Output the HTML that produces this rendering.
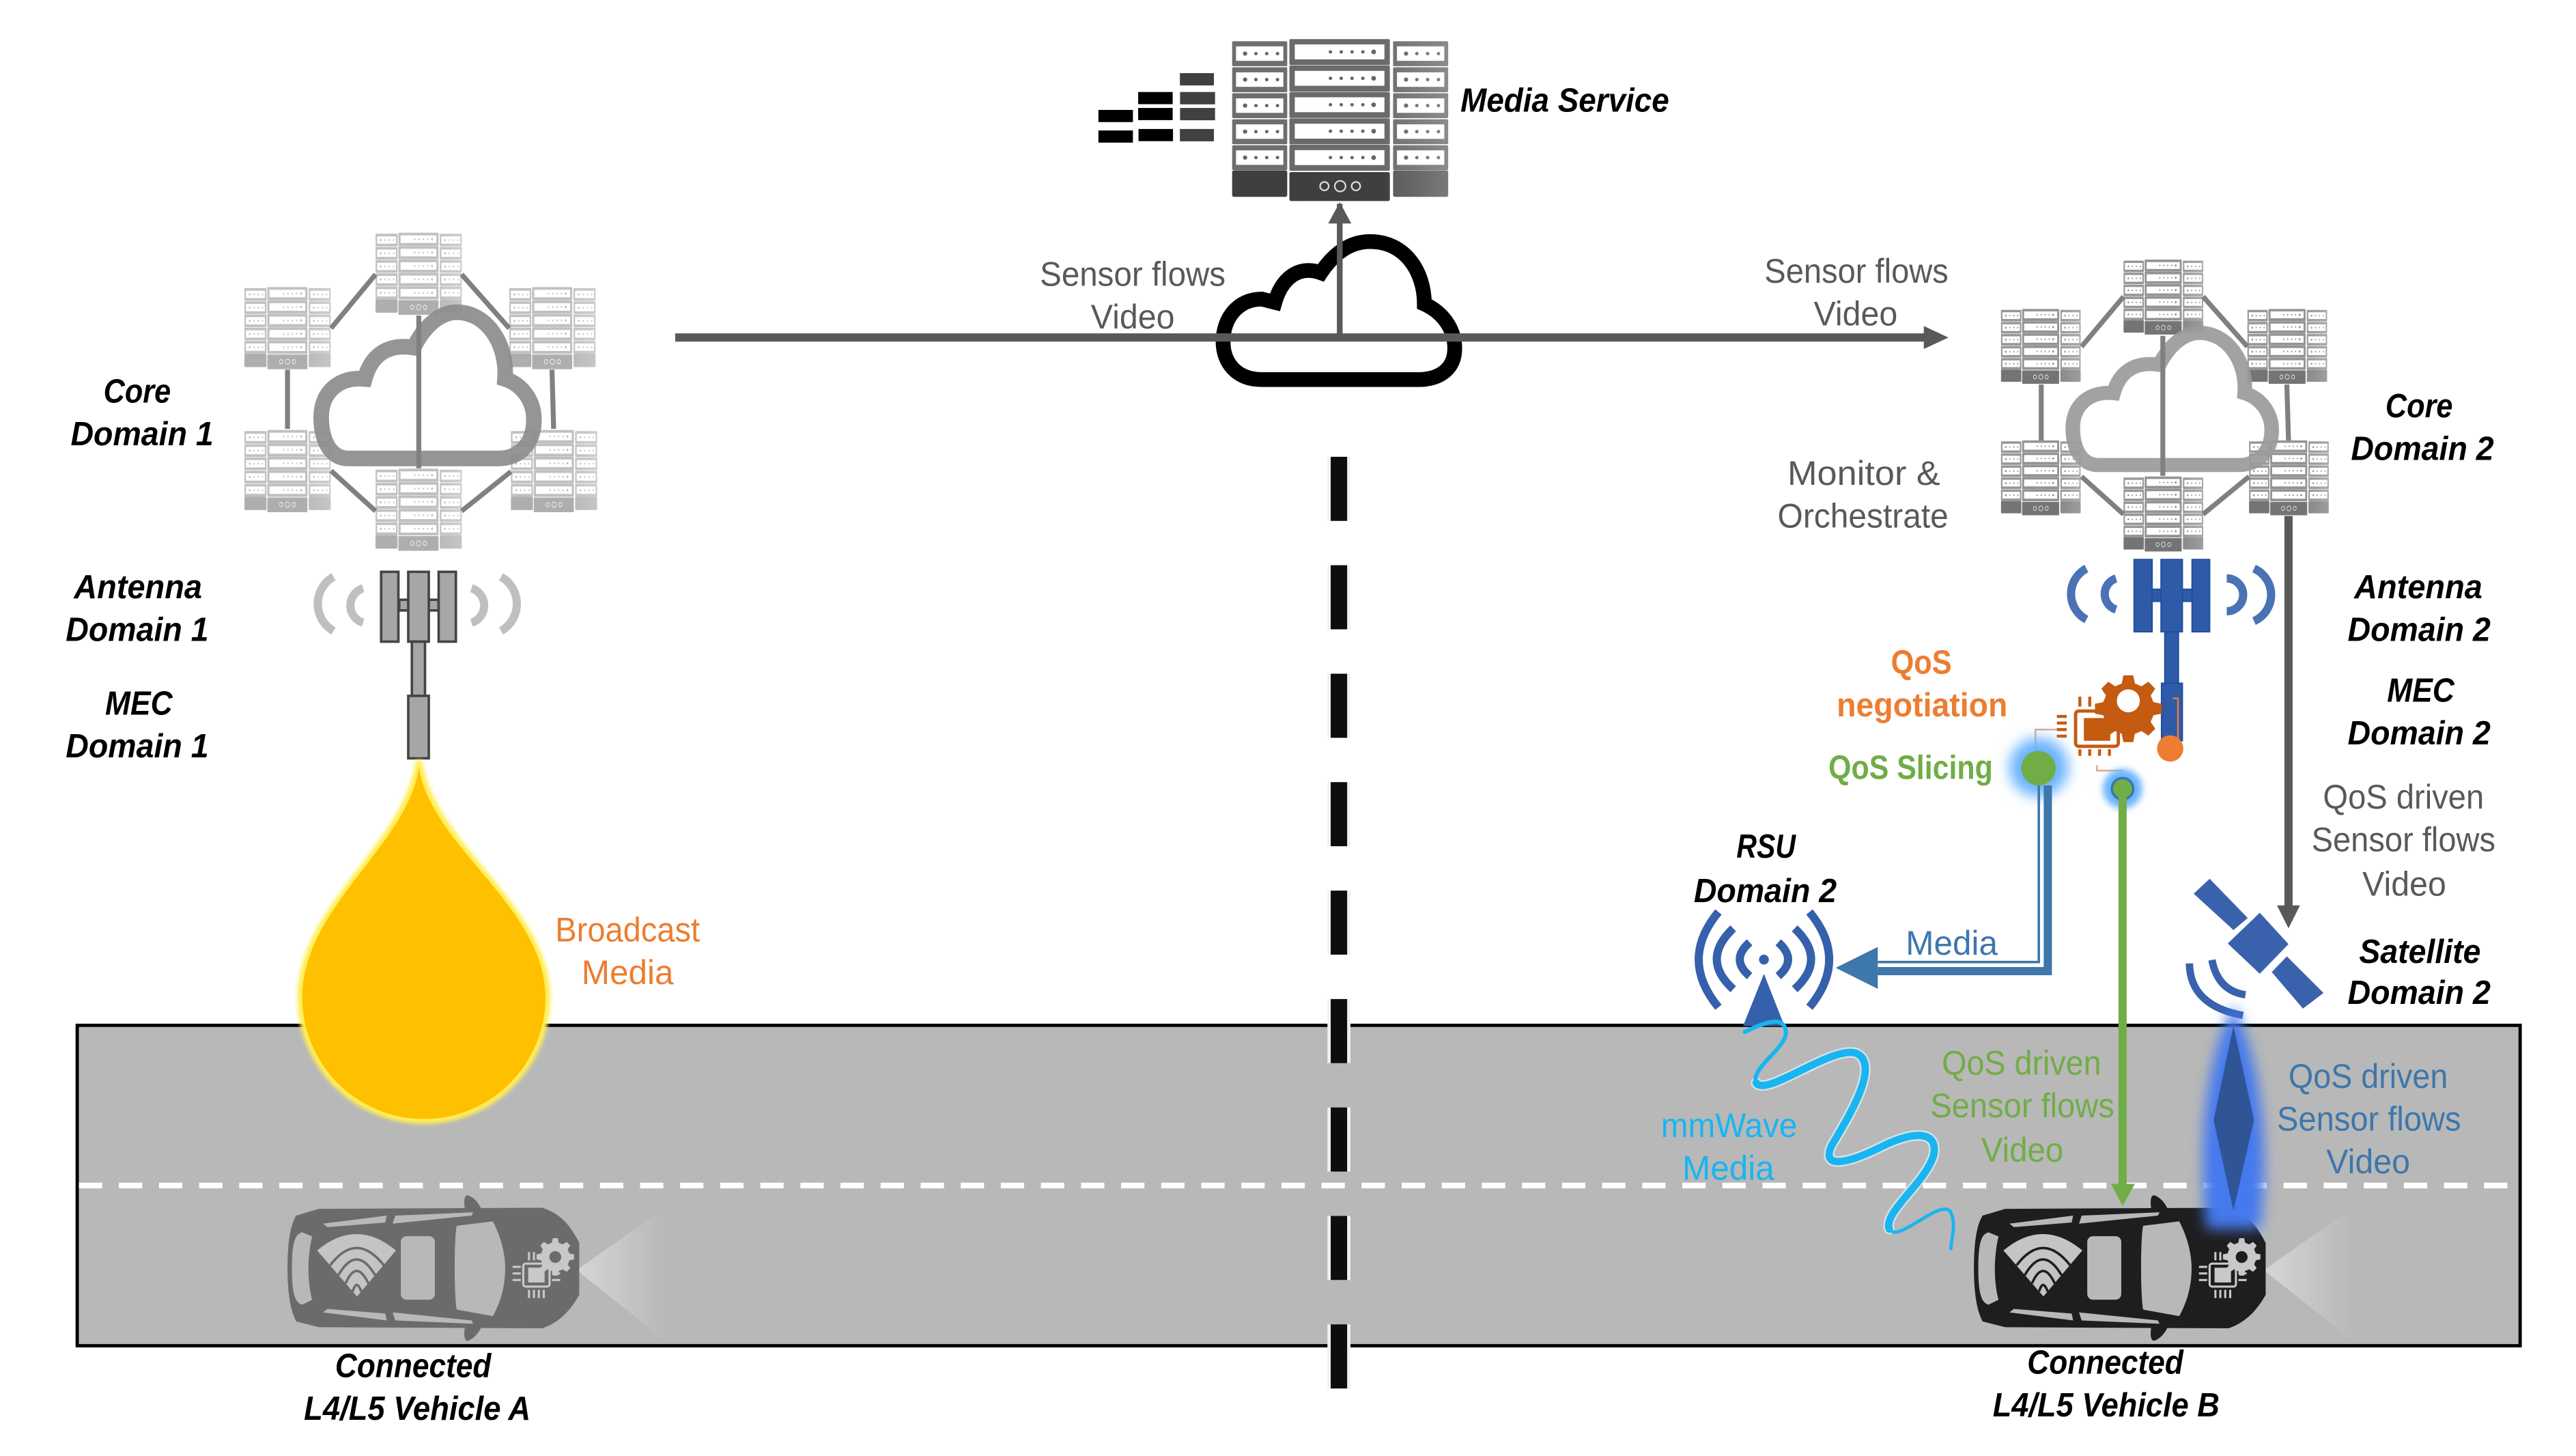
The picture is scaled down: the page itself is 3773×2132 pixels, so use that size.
<!DOCTYPE html>
<html><head><meta charset="utf-8"><title>Connected vehicle media diagram</title>
<style>
html,body{margin:0;padding:0;background:#fff}
svg{display:block}
text{font-family:"Liberation Sans",sans-serif;text-anchor:start}
.r{font-size:21px}
.b{font-size:20.5px;font-weight:bold;font-style:italic;fill:#000}
.g{fill:#595959}
.o{fill:#ed7d31}
.gr{fill:#70ad47}
.bl{fill:#3d77ab}
.cy{fill:#19b5f1}
.bo{font-weight:bold;font-size:20.5px}
</style></head><body>
<svg xmlns="http://www.w3.org/2000/svg" width="3773" height="2132" viewBox="0 0 1568 886.1" preserveAspectRatio="none">
<defs>
<linearGradient id="rg" x1="0" y1="0" x2="0" y2="1"><stop offset="0" stop-color="#8f8f8f"/><stop offset=".75" stop-color="#5c5c5c"/><stop offset="1" stop-color="#3c3c3c"/></linearGradient>
<linearGradient id="fade" x1="0" y1="0" x2="1" y2="0"><stop offset="0" stop-color="#fff" stop-opacity="0"/><stop offset=".7" stop-color="#fff" stop-opacity="0"/><stop offset="1" stop-color="#fff" stop-opacity=".2"/></linearGradient>
<linearGradient id="cone" x1="0" y1="0" x2="1" y2="0"><stop offset="0" stop-color="#d6d6d6"/><stop offset="1" stop-color="#b8b8b8"/></linearGradient>
<filter id="blur2" x="-100%" y="-100%" width="300%" height="300%"><feGaussianBlur stdDeviation="2"/></filter>
<filter id="blur1" x="-100%" y="-100%" width="300%" height="300%"><feGaussianBlur stdDeviation="1.2"/></filter>
<filter id="blur4" x="-100%" y="-100%" width="300%" height="300%"><feGaussianBlur stdDeviation="4"/></filter>
<g id="rowS"><rect width="25.5" height="11.7" rx=".6" fill="#6e6e6e"/><rect x="1.8" y="2.4" width="21.9" height="6.8" fill="#fff"/><g fill="#666"><circle cx="6" cy="5.8" r="1"/><circle cx="11" cy="5.8" r=".8"/><circle cx="16" cy="5.8" r=".8"/><circle cx="21" cy="5.8" r=".8"/></g></g>
<g id="rowM"><rect width="46.5" height="12.2" rx=".6" fill="#6a6a6a"/><rect x="2.5" y="2.5" width="41.5" height="7" fill="#fff"/><g fill="#666"><circle cx="19" cy="6" r=".8"/><circle cx="24" cy="6" r=".8"/><circle cx="29" cy="6" r=".8"/><circle cx="34" cy="6" r=".8"/><circle cx="39" cy="6" r="1.1"/></g></g>
<g id="rack">
<use href="#rowS" y="1"/><use href="#rowS" y="13.2"/><use href="#rowS" y="25.4"/><use href="#rowS" y="37.6"/><use href="#rowS" y="49.8"/>
<use href="#rowM" x="26.5"/><use href="#rowM" x="26.5" y="12.4"/><use href="#rowM" x="26.5" y="24.8"/><use href="#rowM" x="26.5" y="37.2"/><use href="#rowM" x="26.5" y="49.6"/>
<use href="#rowS" x="74.5" y="1"/><use href="#rowS" x="74.5" y="13.2"/><use href="#rowS" x="74.5" y="25.4"/><use href="#rowS" x="74.5" y="37.6"/><use href="#rowS" x="74.5" y="49.8"/>
<rect y="61.6" width="25.5" height="12.4" rx=".8" fill="#3f3f3f"/><rect x="26.5" y="62.4" width="46.5" height="13.6" rx=".8" fill="#3f3f3f"/><rect x="74.5" y="61.6" width="25.5" height="12.4" rx=".8" fill="#585858"/>
<g fill="none" stroke="#ddd" stroke-width=".7"><circle cx="42.7" cy="69" r="2"/><circle cx="50" cy="69" r="2.5"/><circle cx="57.3" cy="69" r="2"/></g>
<rect width="100" height="76" fill="url(#fade)"/>
</g>
<path id="cloud" d="M212 279 C200 279 195.5 266 195.5 254 C195.5 239 206 229 222 230.6 C226 216 236 209 251.8 211.5 C259 197 269 190 278 190 C296 190 309 209 307.4 230.6 C318 234 325 244 325 255.4 C325 270 316 279 303.7 279 Z" fill="none"/>
<g id="car">
<path fill="currentColor" d="M175 771.7 C175 755 177 745 180.3 739.8 L194 735.7 L330 735 C340 738 347 745 352.6 756.5 L352.6 788 C347 798 340 805 330 808.4 L194 807.7 L180.3 804.2 C177 798 175 788 175 771.7Z"/>
<path fill="currentColor" d="M283 736 C282 730 283 727 285 727.5 C289 729 292 733 293.5 737Z M283 807.4 C282 813.4 283 816.4 285 815.9 C289 814.4 292 810.4 293.5 806.4Z"/>
<g fill="#b8b8b8">
<path d="M278 746 L300 743.3 C306 755 307.5 765 307.5 772 C307.5 780 306 790 300 801 L278 797 C276.5 790 276.2 755 278 746Z"/>
<rect x="244" y="752.3" width="20.7" height="38.7" rx="3.5"/>
<path d="M184 750 L190 752.5 C187 765 187 780 190 791 L184 794 C179 793 177.7 785 177.7 772 C177.7 758 179 751 184 750Z"/>
<path d="M196.7 744.7 L235.4 739.8 L234.5 744 L199.3 746.8Z M240.6 739.8 L288 737.8 L287 739.8 L239 744.7Z M196.7 798.7 L235.4 803.6 L234.5 799.4 L199.3 796.6Z M240.6 803.6 L288 805.6 L287 803.6 L239 798.7Z"/>
</g>
<path fill="#c4c4c4" d="M217.3 789 L193 761 Q217 741 241 761Z"/>
<g fill="none" stroke="currentColor" stroke-width="1.5"><path d="M201 770 Q217 749 233.600 770"/><path d="M206 776 Q217 757 228.300 776"/><path d="M210.400 781 Q217 766 224.200 781"/><path d="M214.700 786 Q217 778 219.900 786"/></g>
<g fill="#c8c8c8">
<path d="M336.500 753.500h3l.6 2.800 2.500 1 2.300-1.500 2.200 2.200-1.500 2.300 1 2.500 2.800.6v3l-2.800.6-1 2.500 1.500 2.300-2.200 2.200-2.300-1.500-2.500 1-.6 2.800h-3l-.6-2.800-2.500-1-2.300 1.500-2.200-2.200 1.500-2.300-1-2.500-2.800-.6v-3l2.800-.6 1-2.500-1.500-2.300 2.200-2.200 2.300 1.500 2.500-1z"/>
</g>
<circle cx="338" cy="765" r="3.600" fill="currentColor"/>
<g fill="none" stroke="#c8c8c8" stroke-width="1.300"><rect x="318.500" y="769" width="16" height="14" rx="1.500"/><path d="M322 762v5M325 762v5M322 785v5M325 785v5M328 785v5M331 785v5M312 771h5M312 775h5M312 779h5M336 775h5M336 779h5"/></g>
<rect x="321.500" y="771.500" width="10" height="9" fill="#c8c8c8"/>
</g>
</defs>

<rect width="1568" height="886.100" fill="#fff"/>

<!-- road -->
<rect x="47" y="624" width="1487" height="195" fill="#b8b8b8" stroke="#000" stroke-width="2"/>
<line x1="48" y1="721.500" x2="1534" y2="721.500" stroke="#fff" stroke-width="3.500" stroke-dasharray="14.200 10.200"/>

<!-- centre dashed divider -->
<line x1="815" y1="278" x2="815" y2="845" stroke="#f0f0f0" stroke-width="14" stroke-dasharray="39 27"/>
<line x1="815" y1="278" x2="815" y2="845" stroke="#0d0d0d" stroke-width="10" stroke-dasharray="39 27"/>

<!-- media service -->
<use href="#rack" transform="matrix(1.315 0 0 1.297 750 23.800)"/>
<g fill="#000"><rect x="668.600" y="66.900" width="21" height="7.400"/><rect x="668.600" y="79.400" width="21" height="7.400"/><rect x="692.800" y="56" width="21" height="7.400"/><rect x="692.800" y="65.700" width="21" height="7.400"/><rect x="693" y="78.500" width="21" height="7.400"/></g>
<g fill="#404040"><rect x="718.200" y="44.500" width="20.700" height="7.500"/><rect x="718.300" y="56" width="21.300" height="7.500"/><rect x="718.300" y="65.700" width="21.300" height="7.500"/><rect x="718.200" y="78.500" width="20.700" height="7.500"/></g>

<!-- centre cloud -->
<path fill="none" stroke="#000" stroke-width="9" d="M768 231 C752 231 744.500 220 744.500 208 C744.500 193 754 182 768 182 L776 184 C780 170 790 161 804 166 C812 154 822 147 834 147 C855 147 867 165 867 185 C878 190 885.500 200 885.500 212 C885.500 224 877 231 863 231 Z"/>
<line x1="411" y1="205.400" x2="1175" y2="205.400" stroke="#595959" stroke-width="5"/>
<path d="M1171 198.400 L1186 205.400 L1171 212.400Z" fill="#595959"/>
<line x1="815.500" y1="205.400" x2="815.500" y2="124" stroke="#595959" stroke-width="3.500"/>
<path d="M808.500 136 L815.500 123 L822.500 136Z" fill="#595959"/>

<!-- core domain 1 -->
<g opacity=".42">
<use href="#rack" transform="matrix(.525 0 0 .658 228.600 141.600)"/>
<use href="#rack" transform="matrix(.525 0 0 .658 148.800 174.700)"/>
<use href="#rack" transform="matrix(.525 0 0 .658 310 174.700)"/>
<use href="#rack" transform="matrix(.525 0 0 .658 148.800 261.700)"/>
<use href="#rack" transform="matrix(.525 0 0 .658 311 261.700)"/>
<use href="#rack" transform="matrix(.525 0 0 .658 228.600 285.200)"/>
</g>
<g stroke="#808080" stroke-width="3" fill="none">
<line x1="228.600" y1="167" x2="201.500" y2="199.800"/><line x1="281" y1="167" x2="310" y2="199.800"/>
<line x1="175" y1="225" x2="175" y2="261"/><line x1="336" y1="225" x2="337" y2="261"/>
<line x1="201.500" y1="286.500" x2="228.600" y2="311"/><line x1="311" y1="287" x2="281" y2="311"/>
</g>
<use href="#cloud" stroke="#8c8c8c" stroke-width="9.500" opacity=".92"/>
<line x1="254.900" y1="192" x2="254.900" y2="285" stroke="#808080" stroke-width="3"/>

<!-- antenna 1 -->
<g fill="#a6a6a6" stroke="#444" stroke-width="1.500">
<rect x="243" y="365" width="24" height="6.500"/>
<rect x="232" y="348" width="10.500" height="42.500"/><rect x="248.500" y="348" width="12.500" height="42.500"/><rect x="267" y="348" width="10.500" height="42.500"/>
<rect x="250.700" y="390.500" width="8" height="33"/><rect x="248.500" y="423.500" width="12.500" height="38"/>
</g>
<g fill="none" stroke="#bfbfbf" stroke-width="5">
<path d="M203 351 A19 19 0 0 0 203 384"/><path d="M221 358 A11 11 0 0 0 221 379"/><path d="M287 358 A11 11 0 0 1 287 379"/><path d="M305 351 A19 19 0 0 1 305 384"/>
</g>

<!-- drop -->
<path d="M255 463 C262 515 333 552 333 607 A75 75 0 1 1 183 607 C183 552 248 515 255 463Z" fill="#fff04d" stroke="#ffee55" stroke-width="4" filter="url(#blur1)"/>
<path d="M255 467 C262 515 332 552 332 607 A74 74 0 1 1 184 607 C184 552 248 515 255 467Z" fill="#ffc000"/>

<!-- core domain 2 -->
<g opacity=".72">
<use href="#rack" transform="matrix(.485 0 0 .6 1292.600 158)"/>
<use href="#rack" transform="matrix(.485 0 0 .6 1218 188)"/>
<use href="#rack" transform="matrix(.485 0 0 .6 1368 188)"/>
<use href="#rack" transform="matrix(.485 0 0 .6 1218 268)"/>
<use href="#rack" transform="matrix(.485 0 0 .6 1369 268)"/>
<use href="#rack" transform="matrix(.485 0 0 .6 1292.600 290)"/>
</g>
<g stroke="#808080" stroke-width="3" fill="none">
<line x1="1292.600" y1="180.500" x2="1267" y2="211"/><line x1="1341" y1="180.500" x2="1368" y2="211"/>
<line x1="1242.500" y1="234" x2="1242.500" y2="268"/><line x1="1392" y1="234" x2="1393" y2="268"/>
<line x1="1267" y1="290" x2="1292.600" y2="313"/><line x1="1369" y1="290" x2="1341" y2="313"/>
</g>
<g transform="matrix(.935 0 0 .904 1078.900 30.800)"><use href="#cloud" stroke="#9a9a9a" stroke-width="9.500" opacity=".92"/></g>
<line x1="1316.500" y1="204.400" x2="1316.500" y2="289.600" stroke="#808080" stroke-width="3"/>
<line x1="1393" y1="314" x2="1393" y2="553" stroke="#595959" stroke-width="5"/>
<path d="M1386 551 L1400 551 L1393 565Z" fill="#595959"/>

<!-- antenna 2 -->
<g fill="#2f5aa8" stroke="#1f4fa0" stroke-width=".8">
<rect x="1309" y="358.600" width="27" height="7.400"/>
<rect x="1299" y="340.500" width="11" height="44"/><rect x="1315.400" y="340.500" width="13" height="44"/><rect x="1334.300" y="340.500" width="10.700" height="44"/>
<rect x="1317.700" y="384.500" width="8.300" height="31.500"/><rect x="1315.700" y="415.800" width="12.700" height="35"/>
</g>
<g fill="none" stroke="#4a72b5" stroke-width="5">
<path d="M1270 346 A17.500 17.500 0 0 0 1270 377"/><path d="M1288 352 A10 10 0 0 0 1288 371"/><path d="M1355.400 352 A10 10 0 0 1 1355.400 372"/><path d="M1372 346 A17.500 17.500 0 0 1 1372 378"/>
</g>
<path d="M1322.500 425 H1325.700 V451" fill="none" stroke="#ed7d31" stroke-width="1"/>
<circle cx="1321" cy="455.500" r="8" fill="#ed7d31"/>

<!-- MEC icon -->
<g fill="#c55a11">
<path d="M1292.500 411h6l1 5 4 1.700 4.200-2.800 4.200 4.200-2.800 4.200 1.700 4 5 1v6l-5 1-1.700 4 2.800 4.200-4.200 4.200-4.200-2.800-4 1.700-1 5h-6l-1-5-4-1.700-4.200 2.800-4.200-4.200 2.800-4.200-1.700-4-5-1v-6l5-1 1.700-4-2.800-4.200 4.200-4.200 4.200 2.800 4-1.700z"/>
<rect x="1268.500" y="437" width="16" height="13.800"/>
</g>
<circle cx="1295.500" cy="426.500" r="7" fill="#fff"/>
<rect x="1263.400" y="432.700" width="26" height="21.500" rx="2" fill="none" stroke="#c55a11" stroke-width="2"/>
<rect x="1268.500" y="437" width="16" height="13.800" fill="#c55a11"/>
<path d="M1266 424v6M1272 424v6M1266 460v-4M1272 460v-4M1278 460v-4M1284 460v-4M1252 436h6M1252 440h6M1252 444h6M1252 448h6M1293 441h5M1293 446h5" stroke="#c55a11" stroke-width="1.800" fill="none"/>
<path d="M1239 457 V444 H1252" fill="none" stroke="#d9a58c" stroke-width="1"/>
<path d="M1276.400 465.600 V469 H1292.600" fill="none" stroke="#d9a58c" stroke-width="1"/>

<!-- qos dots -->
<circle cx="1241" cy="467" r="18" fill="#6bb4ff" filter="url(#blur4)"/>
<circle cx="1292" cy="480" r="12" fill="#6bb4ff" filter="url(#blur2)"/>

<!-- media path -->
<path d="M1246.500 478 V591 H1143" fill="none" stroke="#3d77ab" stroke-width="5"/>
<path d="M1241 478 V585.500 H1143" fill="none" stroke="#3d77ab" stroke-width="1.500"/>
<path d="M1117.400 589 L1143 576.300 V601.800Z" fill="#3d77ab"/>
<circle cx="1240.800" cy="467.500" r="10.500" fill="#70ad47"/>
<circle cx="1292" cy="480" r="6.500" fill="#70ad47" stroke="#3d77ab" stroke-width="1.500"/>

<!-- green arrow -->
<line x1="1292" y1="485" x2="1292" y2="722" stroke="#70ad47" stroke-width="5"/>
<path d="M1285 720.500 H1299.500 L1292 734Z" fill="#70ad47"/>

<!-- RSU -->
<g fill="none" stroke="#3560ab" stroke-width="5">
<path d="M1046 555 Q1022 584 1046 613"/><path d="M1055 565 Q1035 584 1055 602"/><path d="M1065 573.500 Q1053 584 1065 594"/>
<path d="M1101.400 555 Q1125.400 584 1101.400 613"/><path d="M1092.400 565 Q1112.400 584 1092.400 602"/><path d="M1082.400 573.500 Q1094.400 584 1082.400 594"/>
</g>
<circle cx="1073.700" cy="584" r="5" fill="#fff"/><circle cx="1073.700" cy="584" r="3" fill="#3560ab"/>
<path d="M1073.700 592.600 L1086.200 624.400 H1061Z" fill="#3560ab"/>

<!-- mmwave -->
<g fill="none" stroke-linecap="round">
<path d="M1069 659 C1075 668 1115 636 1130 641 C1145 648 1125 680 1115 697 C1108 712 1125 708 1145 698 C1165 688 1180 688 1177 703 C1172 720 1146 738 1150 748" stroke="#e8f7ff" stroke-width="6.500" opacity=".65"/>
<path d="M1062 628 C1075 622 1085 618 1087 627 C1089 637 1065 650 1069 659" stroke="#19b5f1" stroke-width="2.500"/>
<path d="M1069 659 C1075 668 1115 636 1130 641 C1145 648 1125 680 1115 697 C1108 712 1125 708 1145 698 C1165 688 1180 688 1177 703 C1172 720 1146 738 1150 748" stroke="#19b5f1" stroke-width="4.500"/>
<path d="M1150 748 C1155 757 1180 730 1187 737 C1191 745 1188 752 1187.500 760" stroke="#19b5f1" stroke-width="2"/>
</g>

<!-- cars & cones -->
<path d="M351 773 L405 735 V816Z" fill="url(#cone)"/>
<path d="M1378 773 L1432 735 V816Z" fill="url(#cone)"/>
<use href="#car" color="#6b6b6b"/>
<use href="#car" color="#1e1e1e" transform="translate(1026.500 0)"/>

<!-- satellite -->
<g fill="#3a62ac">
<path d="M1345 534.800 L1368.200 558.700 L1359.500 566 L1335.300 543.900Z"/>
<path d="M1375.500 555.500 L1393 574.600 L1375.500 592.600 L1356 574.200Z"/>
<path d="M1392 582 L1414.300 604.300 L1401.800 613.800 L1382.800 591.600Z"/>
</g>
<g fill="none" stroke="#3a62ac" stroke-width="4.500">
<path d="M1332.700 586.300 Q1333 612 1365.300 618"/><path d="M1346.400 584.200 Q1350 603 1366.800 605.400"/>
</g>

<!-- beam -->
<path d="M1359.500 612 C1378 650 1381 700 1376 748 L1343 748 C1338 700 1341 650 1359.500 612Z" fill="#4579ee" filter="url(#blur4)"/>
<path d="M1359.500 624.400 L1372 681.700 L1359.500 736.800 L1347.400 681.700Z" fill="#2f5597"/>

<!-- labels: black -->
<text class="b" x="889" y="68" textLength="127" lengthAdjust="spacingAndGlyphs">Media Service</text>
<text class="b" x="63" y="245" textLength="41" lengthAdjust="spacingAndGlyphs">Core</text>
<text class="b" x="43" y="271" textLength="87" lengthAdjust="spacingAndGlyphs">Domain 1</text>
<text class="b" x="45" y="364" textLength="78" lengthAdjust="spacingAndGlyphs">Antenna</text>
<text class="b" x="40" y="390" textLength="87" lengthAdjust="spacingAndGlyphs">Domain 1</text>
<text class="b" x="64" y="435" textLength="41" lengthAdjust="spacingAndGlyphs">MEC</text>
<text class="b" x="40" y="461" textLength="87" lengthAdjust="spacingAndGlyphs">Domain 1</text>
<text class="b" x="204" y="838" textLength="95" lengthAdjust="spacingAndGlyphs">Connected</text>
<text class="b" x="185" y="864" textLength="138" lengthAdjust="spacingAndGlyphs">L4/L5 Vehicle A</text>
<text class="b" x="1234" y="836" textLength="95" lengthAdjust="spacingAndGlyphs">Connected</text>
<text class="b" x="1213" y="862" textLength="138" lengthAdjust="spacingAndGlyphs">L4/L5 Vehicle B</text>
<text class="b" x="1452" y="254" textLength="41" lengthAdjust="spacingAndGlyphs">Core</text>
<text class="b" x="1431" y="280" textLength="87" lengthAdjust="spacingAndGlyphs">Domain 2</text>
<text class="b" x="1433" y="364" textLength="78" lengthAdjust="spacingAndGlyphs">Antenna</text>
<text class="b" x="1429" y="390" textLength="87" lengthAdjust="spacingAndGlyphs">Domain 2</text>
<text class="b" x="1453" y="427" textLength="41" lengthAdjust="spacingAndGlyphs">MEC</text>
<text class="b" x="1429" y="453" textLength="87" lengthAdjust="spacingAndGlyphs">Domain 2</text>
<text class="b" x="1436" y="586" textLength="74" lengthAdjust="spacingAndGlyphs">Satellite</text>
<text class="b" x="1429" y="611" textLength="87" lengthAdjust="spacingAndGlyphs">Domain 2</text>
<text class="b" x="1057" y="522" textLength="36" lengthAdjust="spacingAndGlyphs">RSU</text>
<text class="b" x="1031" y="549" textLength="87" lengthAdjust="spacingAndGlyphs">Domain 2</text>

<!-- labels: gray -->
<text class="r g" x="633" y="174" textLength="113" lengthAdjust="spacingAndGlyphs">Sensor flows</text>
<text class="r g" x="664" y="200" textLength="51" lengthAdjust="spacingAndGlyphs">Video</text>
<text class="r g" x="1074" y="172" textLength="112" lengthAdjust="spacingAndGlyphs">Sensor flows</text>
<text class="r g" x="1104" y="198" textLength="51" lengthAdjust="spacingAndGlyphs">Video</text>
<text class="r g" x="1088" y="295" textLength="93" lengthAdjust="spacingAndGlyphs">Monitor &amp;</text>
<text class="r g" x="1082" y="321" textLength="104" lengthAdjust="spacingAndGlyphs">Orchestrate</text>
<text class="r g" x="1414" y="492" textLength="98" lengthAdjust="spacingAndGlyphs">QoS driven</text>
<text class="r g" x="1407" y="518" textLength="112" lengthAdjust="spacingAndGlyphs">Sensor flows</text>
<text class="r g" x="1438" y="545" textLength="51" lengthAdjust="spacingAndGlyphs">Video</text>

<!-- labels: colour -->
<text class="bo o" x="1151" y="410" textLength="37" lengthAdjust="spacingAndGlyphs">QoS</text>
<text class="bo o" x="1118" y="436" textLength="104" lengthAdjust="spacingAndGlyphs">negotiation</text>
<text class="bo gr" x="1113" y="474" textLength="100" lengthAdjust="spacingAndGlyphs">QoS Slicing</text>
<text class="r o" x="338" y="573" textLength="88" lengthAdjust="spacingAndGlyphs">Broadcast</text>
<text class="r o" x="354" y="599" textLength="56" lengthAdjust="spacingAndGlyphs">Media</text>
<text class="r bl" x="1160" y="581" textLength="56" lengthAdjust="spacingAndGlyphs">Media</text>
<text class="r cy" x="1011" y="692" textLength="83" lengthAdjust="spacingAndGlyphs">mmWave</text>
<text class="r cy" x="1024" y="718" textLength="56" lengthAdjust="spacingAndGlyphs">Media</text>
<text class="r gr" x="1182" y="654" textLength="97" lengthAdjust="spacingAndGlyphs">QoS driven</text>
<text class="r gr" x="1175" y="680" textLength="112" lengthAdjust="spacingAndGlyphs">Sensor flows</text>
<text class="r gr" x="1206" y="707" textLength="50" lengthAdjust="spacingAndGlyphs">Video</text>
<text class="r bl" x="1393" y="662" textLength="97" lengthAdjust="spacingAndGlyphs">QoS driven</text>
<text class="r bl" x="1386" y="688" textLength="112" lengthAdjust="spacingAndGlyphs">Sensor flows</text>
<text class="r bl" x="1416" y="714" textLength="51" lengthAdjust="spacingAndGlyphs">Video</text>
</svg>
</body></html>
